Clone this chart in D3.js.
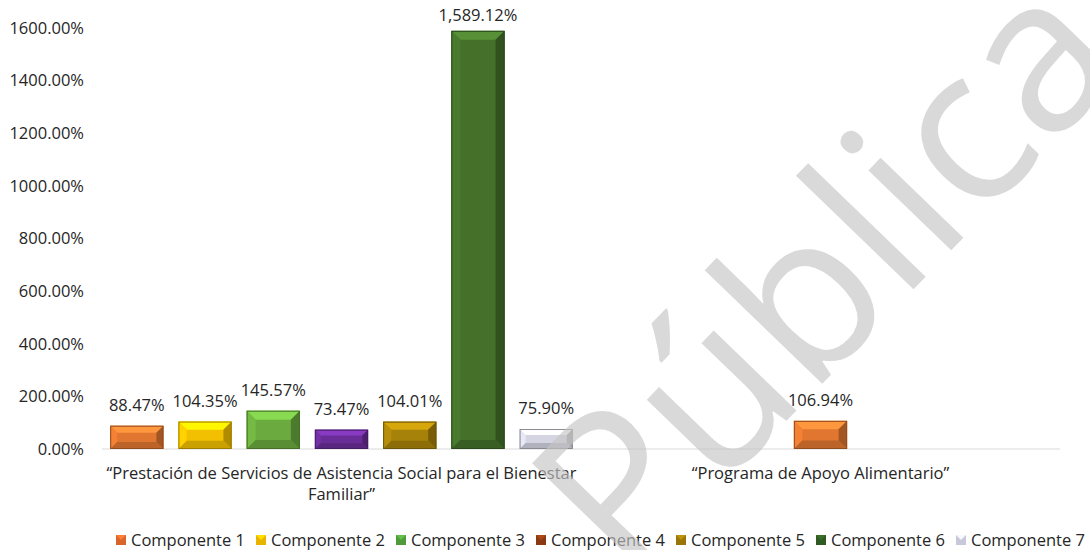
<!DOCTYPE html>
<html>
<head>
<meta charset="utf-8">
<script src="https://cdn.jsdelivr.net/npm/d3@7"></script>
<style>
  body { margin: 0; background: #fff; }
  text { font-family: "Open Sans", "Noto Sans", sans-serif; }
</style>
</head>
<body>
<script>
// chart data
var programas = [
    ["\u201cPrestación de Servicios de Asistencia Social para el Bienestar", "Familiar\u201d"],
    ["\u201cPrograma de Apoyo Alimentario\u201d"]
];
var componentes = ["Componente 1", "Componente 2", "Componente 3", "Componente 4",
                   "Componente 5", "Componente 6", "Componente 7"];
var valoresBienestar = [88.47, 104.35, 145.57, 73.47, 104.01, 1589.12, 75.90];
var valoresAlimentario = [106.94, null, null, null, null, null, null];
var yTicks = [0, 200, 400, 600, 800, 1000, 1200, 1400, 1600];

var barColors = ["#e07630", "#f2c000", "#6aaa3e", "#6a2d98", "#a7820a", "#44702a", "#d4d4e2"];
var legendColors = ["#d8652a", "#e8b400", "#4f9a3a", "#8a3a12", "#9a760a", "#2f5a22", "#c8c8da"];

window.onload = drawChart;

function drawChart() {
    var width = 1090, height = 550;
    var margin = {top: 28, left: 102, right: 30, bottom: 101};
    var fs = "16.5px";
    var ink = "#262626";

    var svg = d3.select("body").append("svg")
        .attr("width", width)
        .attr("height", height);

    var y = d3.scaleLinear()
        .domain([0, 1600])
        .range([height - margin.bottom, margin.top]);

    var x0 = d3.scaleBand()
        .domain(d3.range(programas.length))
        .range([margin.left, 1060]);

    var x1 = d3.scaleBand()
        .domain(componentes)
        .range([0, x0.bandwidth()])
        .paddingInner(0.22)
        .paddingOuter(0.12);

    // y axis labels (no line, no gridlines)
    var yAxis = d3.axisLeft(y)
        .tickValues(yTicks)
        .tickSize(0)
        .tickPadding(0)
        .tickFormat(function(d) { return d3.format(".2f")(d) + "%"; });
    var gy = svg.append("g")
        .attr("transform", "translate(84,0)")
        .call(yAxis);
    gy.select(".domain").remove();
    gy.selectAll("text")
        .style("font-size", fs)
        .style("font-family", "'Open Sans', sans-serif")
        .style("fill", ink);

    // baseline
    svg.append("line")
        .attr("x1", margin.left).attr("x2", 1060)
        .attr("y1", y(0)).attr("y2", y(0))
        .attr("stroke", "#d9d9d9")
        .attr("stroke-width", 1);

    var series = [valoresBienestar, valoresAlimentario];
    var bars = [];
    series.forEach(function(vals, gi) {
        var present = componentes.filter(function(c, i) { return vals[i] != null; });
        var span = present.length * x1.step() - (x1.step() - x1.bandwidth());
        var start = x0(gi) + (x0.bandwidth() - span) / 2;
        if (present.length === componentes.length) start = x0(gi) + x1(componentes[0]);
        var k = 0;
        vals.forEach(function(v, i) {
            if (v == null) return;
            bars.push({
                value: v,
                color: barColors[i],
                x: start + k * x1.step(),
                w: x1.bandwidth()
            });
            k++;
        });
    });

    var gBars = svg.append("g");
    bars.forEach(function(d) {
        var top = y(d.value), bottom = y(0);
        var h = bottom - top, w = d.w, x = d.x;
        var b = Math.min(9, h * 0.3, w / 2);
        var c = d3.color(d.color);
        var g = gBars.append("g");
        g.append("rect")
            .attr("x", x).attr("y", top)
            .attr("width", w).attr("height", h)
            .attr("fill", c.formatHex());
        // bevel faces
        var faces = [
            {pts: [[x, top], [x + w, top], [x + w - b, top + b], [x + b, top + b]], col: c.brighter(0.7)},
            {pts: [[x, top], [x + b, top + b], [x + b, bottom - b], [x, bottom]], col: c.brighter(0.25)},
            {pts: [[x + w, top], [x + w - b, top + b], [x + w - b, bottom - b], [x + w, bottom]], col: c.darker(0.9)},
            {pts: [[x, bottom], [x + b, bottom - b], [x + w - b, bottom - b], [x + w, bottom]], col: c.darker(0.5)}
        ];
        faces.forEach(function(f) {
            g.append("path")
                .attr("d", d3.line()(f.pts) + "Z")
                .attr("fill", f.col.formatHex());
        });
        g.append("rect")
            .attr("x", x + 0.5).attr("y", top + 0.5)
            .attr("width", w - 1).attr("height", h - 1)
            .attr("fill", "none")
            .attr("stroke", c.darker(1.2).formatHex())
            .attr("stroke-width", 1);
        // data label (kept inside the chart area, like the original)
        svg.append("text")
            .attr("x", x + w / 2)
            .attr("y", Math.max(top - 15, 21))
            .attr("text-anchor", "middle")
            .style("font-size", fs)
            .style("fill", ink)
            .text(d3.format(",.2f")(d.value) + "%");
    });

    // category labels
    programas.forEach(function(lines, gi) {
        var t = svg.append("text")
            .attr("x", x0(gi) + x0.bandwidth() / 2)
            .attr("y", y(0) + 30)
            .attr("text-anchor", "middle")
            .style("font-size", fs)
            .style("fill", ink);
        lines.forEach(function(l, li) {
            t.append("tspan")
                .attr("x", x0(gi) + x0.bandwidth() / 2)
                .attr("dy", li === 0 ? 0 : 21)
                .text(l);
        });
    });

    // legend
    var legend = svg.append("g").attr("transform", "translate(0,546)");
    var lx = 116;
    componentes.forEach(function(c, i) {
        var item = legend.append("g").attr("transform", "translate(" + lx + ",0)");
        var col = d3.color(legendColors[i]);
        item.append("rect")
            .attr("x", 0).attr("y", -11)
            .attr("width", 10).attr("height", 10)
            .attr("fill", col.formatHex());
        item.append("path")
            .attr("d", "M0,-11L5,-6L10,-11Z")
            .attr("fill", col.brighter(0.6).formatHex());
        var t = item.append("text")
            .attr("x", 15).attr("y", 0)
            .style("font-size", fs)
            .style("fill", ink)
            .text(c);
        lx += 15 + t.node().getComputedTextLength() + 11;
    });

    // watermark
    svg.append("text")
        .attr("transform", "translate(628,585) rotate(-46)")
        .style("font-size", "215px")
        .style("font-family", "'Open Sans', sans-serif")
        .style("fill", "#c4c4c4")
        .style("fill-opacity", 0.65)
        .text("Pública");
}
</script>
</body>
</html>
